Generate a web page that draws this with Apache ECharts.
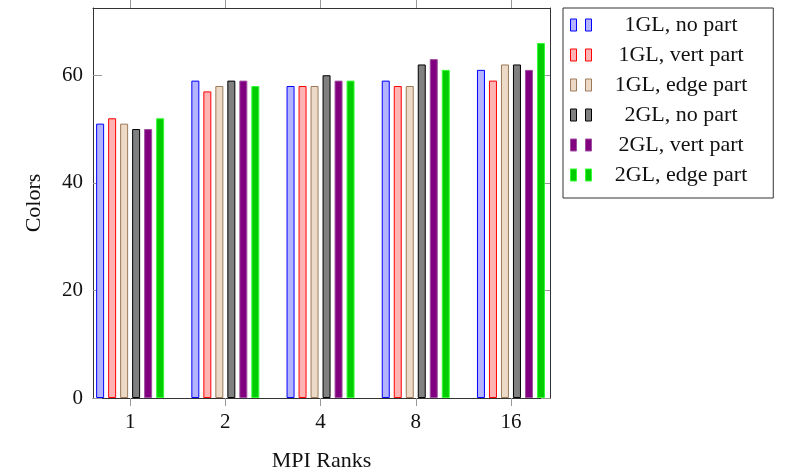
<!DOCTYPE html>
<html>
<head>
<meta charset="utf-8">
<script src="https://cdn.jsdelivr.net/npm/echarts@6/dist/echarts.min.js"></script>
<style>
  html, body { margin: 0; padding: 0; background: #fff; }
  #chart { width: 787px; height: 470px; }
</style>
</head>
<body>
<div id="chart"></div>
<script>
// MPI ranks on the x axis
const ranks = ['1', '2', '4', '8', '16']

const seriesNames = [
  '1GL, no part',
  '1GL, vert part',
  '1GL, edge part',
  '2GL, no part',
  '2GL, vert part',
  '2GL, edge part'
]

// colors per configuration, one array per series
const oneGlNoPart = [51, 59, 58, 59, 61]
const oneGlVertPart = [52, 57, 58, 58, 59]
const oneGlEdgePart = [51, 58, 58, 58, 62]
const twoGlNoPart = [50, 59, 60, 62, 62]
const twoGlVertPart = [50, 59, 59, 63, 61]
const twoGlEdgePart = [52, 58, 59, 61, 66]

const yTicks = [0, 20, 40, 60]

const seriesValues = [oneGlNoPart, oneGlVertPart, oneGlEdgePart, twoGlNoPart, twoGlVertPart, twoGlEdgePart]

const fills = ['#b3b3ff', '#ffb3b3', '#ecd9c6', '#808080', '#800080', '#00cc00']
const edges = ['#0000ff', '#ff0000', '#9c7a5a', '#000000', '#a050a0', '#33ff33']

const font = "'Liberation Serif', 'DejaVu Serif', serif"
const rankIdx = ranks.map((r, i) => i)

function buildSeries () {
  let list = []
  seriesValues.forEach((vals, s) => {
    list.push({
      name: seriesNames[s],
      type: 'bar',
      xAxisIndex: 0,
      yAxisIndex: 0,
      barWidth: 8,
      barGap: '50%',
      data: vals.map((v, i) => [i, v]),
      itemStyle: {
        color: fills[s],
        borderColor: edges[s],
        borderWidth: 1
      }
    })
  })
  return list
}

const chart = echarts.init(document.getElementById('chart'))

const frameLine = { show: true, onZero: false, lineStyle: { color: '#333', width: 1 } }
const tickStyle = { color: '#999', width: 1 }

chart.setOption({
  animation: false,
  textStyle: { fontFamily: font },
  grid: { left: 93, top: 8, right: 237, bottom: 72, outerBoundsMode: 'none', containLabel: false },
  legend: {
    left: 563,
    top: 8,
    orient: 'vertical',
    borderColor: '#333',
    borderWidth: 1,
    padding: [6, 26, 12, 7],
    itemGap: 8,
    itemWidth: 22,
    itemHeight: 12,
    icon: 'path://M0,0h6v12h-6zM15,0h6v12h-6z',
    itemStyle: { borderWidth: 1 },
    data: seriesNames,
    formatter: name => '{c|' + name + '}',
    textStyle: {
      fontFamily: font,
      fontSize: 22,
      color: '#111',
      rich: { c: { width: 168, align: 'center', fontFamily: font, fontSize: 22, color: '#111' } }
    }
  },
  xAxis: [
    {
      type: 'value',
      position: 'bottom',
      min: -0.39,
      max: 4.41,
      name: 'MPI Ranks',
      nameLocation: 'middle',
      nameGap: 52,
      nameTextStyle: { fontFamily: font, fontSize: 22, color: '#111' },
      axisLine: frameLine,
      splitLine: { show: false },
      axisTick: { show: true, inside: false, length: 8, customValues: rankIdx, lineStyle: tickStyle },
      axisLabel: {
        customValues: rankIdx,
        formatter: v => ranks[Math.round(v)],
        fontFamily: font,
        fontSize: 21,
        color: '#111',
        margin: 14
      }
    },
    {
      type: 'value',
      position: 'top',
      min: -0.39,
      max: 4.41,
      axisLine: frameLine,
      splitLine: { show: false },
      axisTick: { show: true, inside: false, length: 8, customValues: rankIdx, lineStyle: tickStyle },
      axisLabel: { show: false }
    }
  ],
  yAxis: [
    {
      type: 'value',
      position: 'left',
      min: 0,
      max: 72.5,
      interval: 20,
      name: 'Colors',
      nameLocation: 'middle',
      nameGap: 48,
      nameTextStyle: { fontFamily: font, fontSize: 22, color: '#111' },
      axisLine: frameLine,
      splitLine: { show: false },
      axisTick: { show: true, inside: true, length: 9, customValues: yTicks, lineStyle: tickStyle },
      axisLabel: {
        customValues: yTicks,
        fontFamily: font,
        fontSize: 21,
        color: '#111',
        margin: 10
      }
    },
    {
      type: 'value',
      position: 'right',
      min: 0,
      max: 72.5,
      interval: 20,
      axisLine: frameLine,
      splitLine: { show: false },
      axisTick: { show: true, inside: true, length: 9, customValues: yTicks, lineStyle: tickStyle },
      axisLabel: { show: false }
    }
  ],
  series: buildSeries()
})
</script>
</body>
</html>
